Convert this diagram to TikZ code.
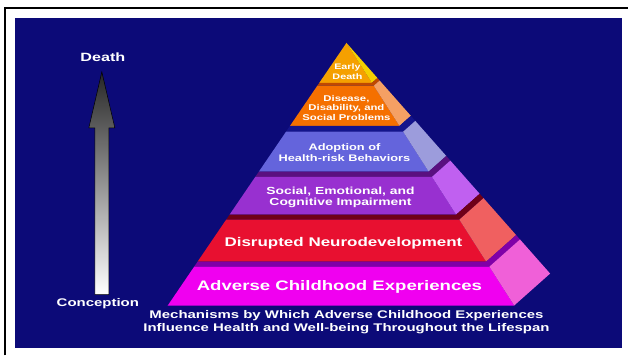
\documentclass[tikz,border=0pt]{standalone}
\usepackage{fontspec}
\setmainfont{Liberation Sans}[FakeStretch=1.35]
\usepackage{xcolor}
\usetikzlibrary{calc}

% slide colours
\definecolor{slide}{HTML}{0C0A78}
\definecolor{edF}{HTML}{F5A000}\definecolor{edS}{HTML}{F5D000}\definecolor{edtop}{HTML}{C06000}
\definecolor{disF}{HTML}{F57000}\definecolor{disS}{HTML}{F5A064}\definecolor{distop}{HTML}{C04800}
\definecolor{adF}{HTML}{6464DC}\definecolor{adS}{HTML}{9C9CDC}\definecolor{adtop}{HTML}{14148C}
\definecolor{socF}{HTML}{9830D0}\definecolor{socS}{HTML}{C060F0}\definecolor{soctop}{HTML}{5A1080}
\definecolor{neuroF}{HTML}{E81030}\definecolor{neuroS}{HTML}{F06060}\definecolor{neurotop}{HTML}{700018}
\definecolor{aceF}{HTML}{F000F0}\definecolor{aceS}{HTML}{F060D8}\definecolor{acetop}{HTML}{8000A8}

\newcommand{\lblfont}[2]{\fontsize{#1}{#2}\selectfont\bfseries}

\begin{document}
\begin{tikzpicture}[x=1pt, y=-1pt,
  every node/.style={text=white, align=center, inner sep=0pt}]
% page and slide
\fill[white] (0,0) rectangle (629,356);
\fill[slide] (15,18) rectangle (623,349);
\draw[line width=2pt] (5,356) -- (5,8) -- (629,8);

% pyramid corners: apex, front base, back base
\coordinate (apex) at (347,43);
\coordinate (fl) at (168,306);
\coordinate (fr) at (515,306);
\coordinate (bk) at (551,274);

% tiers: previous bottom / top / bottom / colour prefix
\foreach \tp/\ta/\tb/\tn in {0/0/0.152/ed, 0.152/0.163/0.316/dis,
    0.316/0.338/0.490/ad, 0.490/0.510/0.654/soc,
    0.654/0.673/0.833/neuro, 0.833/0.852/1/ace} {
  % top face strip
  \fill[fill=\tn top] ($(apex)!\tp!(fl)$) -- ($(apex)!\tp!(fr)$) -- ($(apex)!\tp!(bk)$)
    -- ($(apex)!\ta!(bk)$) -- ($(apex)!\ta!(fr)$) -- ($(apex)!\ta!(fl)$) -- cycle;
  % front face
  \fill[fill=\tn F] ($(apex)!\ta!(fl)$) -- ($(apex)!\tb!(fl)$)
    -- ($(apex)!\tb!(fr)$) -- ($(apex)!\ta!(fr)$) -- cycle;
  % side face
  \fill[fill=\tn S] ($(apex)!\ta!(fr)$) -- ($(apex)!\tb!(fr)$)
    -- ($(apex)!\tb!(bk)$) -- ($(apex)!\ta!(bk)$) -- cycle;
}

% tier labels
\node[font=\lblfont{8}{10}] (early) at (348,72) {Early\\Death};
\node[font=\lblfont{8.4}{9.8}] (disease) at (347,108) {Disease,\\Disability, and\\Social Problems};
\node[font=\lblfont{9.5}{10.5}] (adopt) at (345,153) {Adoption of\\Health-risk Behaviors};
\node[font=\lblfont{10.3}{11.5}] (social) at (341,197.5) {Social, Emotional, and\\Cognitive Impairment};
\node[font=\lblfont{12.6}{14}] (neuro) at (344,244) {Disrupted Neurodevelopment};
\node[font=\lblfont{13.8}{15}] (ace) at (340,287) {Adverse Childhood Experiences};
\node[font=\lblfont{11.1}{13}] (caption) at (347,322.5) {Mechanisms by Which Adverse Childhood Experiences\\
  Influence Health and Well-being Throughout the Lifespan};

% life course arrow
\node[font=\lblfont{12}{14}] (death) at (103,57) {Death};
\node[font=\lblfont{11.1}{13}] (conc) at (98,304) {Conception};
\coordinate (tail) at (102,295);
\coordinate (tip) at (102,72);
\shadedraw[top color=black!85, bottom color=white, draw=black, line width=0.5pt]
  ($(tail)+(-7,0)$) -- ($(tip)+(-7,56)$) -- ($(tip)+(-13,56)$) -- (tip)
  -- ($(tip)+(13,56)$) -- ($(tip)+(7,56)$) -- ($(tail)+(7,0)$) -- cycle;
\end{tikzpicture}
\end{document}
